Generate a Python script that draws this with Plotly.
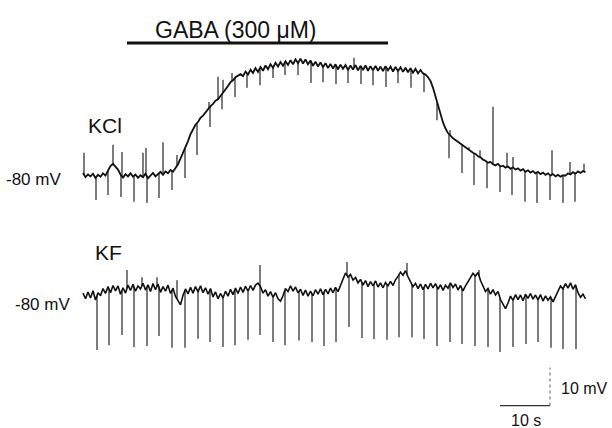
import numpy as np
import plotly.graph_objects as go

# ---------------- data (time in s, membrane potential in mV) ----------------
SAMPLE_STEP = 0.5  # s between samples of the slow traces

kcl_trace = [
    # t = 0 .. 31.5 s
    -79.2, -80.3, -79.6, -80.1, -79.4, -80.5, -79.7, -80.2, -79.3, -79.9,
    -78.6, -77.4, -76.8, -77.5, -78.3, -79.6, -80.4, -79.5, -80.1, -79.3,
    -80.2, -79.6, -80.5, -79.8, -80.3, -79.4, -80.6, -79.9, -79.2, -80.1,
    -79.5, -78.9, -79.7, -78.8, -79.3, -78.4, -78.9, -77.8, -76.9, -75.4,
    -74.0, -72.3, -70.8, -69.0, -67.9, -66.5, -65.8, -64.7, -64.1, -63.2,
    -62.6, -61.6, -61.0, -60.2, -59.8, -59.0, -58.1, -57.2, -56.3, -55.3,
    -54.8, -54.0, -53.7, -53.2,
    # t = 32 .. 67.5 s (plateau)
    -53.7, -52.5, -53.3, -52.0, -52.9, -51.6, -52.6, -51.3, -52.3, -50.9,
    -51.9, -50.6, -51.5, -50.2, -51.2, -50.0, -51.0, -49.8, -50.8, -49.5,
    -50.6, -49.3, -50.3, -49.1, -50.4, -49.3, -50.6, -49.6, -51.0, -49.9,
    -51.2, -50.1, -51.4, -50.3, -51.6, -50.5, -51.7, -50.6, -51.9, -50.7,
    -51.8, -50.8, -52.1, -50.9, -52.0, -50.8, -52.2, -51.0, -52.1, -50.9,
    -52.3, -51.1, -52.2, -51.0, -52.3, -51.2, -52.4, -51.1, -52.2, -51.2,
    -52.5, -51.3, -52.4, -51.4, -52.6, -51.5, -52.7, -51.6, -52.8, -51.8,
    -53.0, -52.1,
    # t = 68 .. 100.5 s
    -53.0, -53.3, -54.0, -55.0,
    -56.8, -59.2, -61.8, -64.0, -65.9, -67.5, -68.7, -69.4, -70.1, -70.5,
    -71.0, -71.4, -71.9, -72.3, -72.9, -73.3, -73.9, -74.2, -74.8, -75.1,
    -75.7, -76.0, -76.5, -76.3, -76.9, -77.2, -76.8, -77.5, -77.3, -77.8,
    -77.5, -78.1, -77.7, -78.3, -78.0, -78.6, -78.2, -78.9, -78.5, -79.1,
    -78.7, -79.3, -78.9, -79.5, -79.1, -79.7, -79.3, -79.9, -79.5, -80.1,
    -79.7, -80.2, -79.8, -79.9, -79.3, -79.6, -79.0, -79.4, -78.8, -79.2,
    -78.7, -79.0,
]

kf_trace = [
    -79.5, -81.0, -79.2, -80.8, -78.9, -81.3, -79.4, -80.2, -78.3, -79.6,
    -77.8, -79.4, -77.5, -78.9, -77.6, -79.8, -78.1, -79.5, -77.4, -78.8,
    -77.2, -79.0, -77.6, -78.4, -76.9, -78.7, -77.3, -79.1, -77.0, -78.6,
    -77.1, -79.3, -77.8, -79.0, -77.4, -79.6, -78.2, -80.4, -81.5, -82.6,
    -80.1, -78.4, -79.7, -78.0, -79.5, -77.8, -79.2, -77.6, -79.4, -78.1,
    -79.8, -78.3, -80.5, -79.2, -81.0, -79.6, -80.8, -79.0, -80.3, -78.5,
    -79.9, -78.2, -79.6, -77.9, -79.3, -77.7, -79.0, -77.5, -78.8, -77.4,
    -76.9, -77.8, -79.5, -78.6, -80.3, -79.1, -80.6, -79.4, -81.0, -81.6,
    -80.2, -78.3, -79.1, -77.6, -79.0, -77.9, -79.4, -78.5, -80.1, -78.7,
    -80.3, -79.0, -80.2, -78.6, -79.8, -78.4, -79.9, -78.5, -79.7, -78.2,
    -79.4, -78.0, -79.1, -77.5, -76.0, -74.2, -75.3, -74.6, -76.1, -75.4,
    -76.8, -75.9, -77.4, -76.2, -77.8, -76.5, -77.6, -76.3, -77.9, -76.8,
    -78.1, -76.7, -77.6, -76.4, -77.5, -76.0, -75.1, -74.0, -74.8, -73.6,
    -75.2, -76.4, -77.8, -76.9, -78.3, -77.1, -78.6, -77.2, -78.4, -76.9,
    -78.1, -77.0, -78.5, -77.3, -78.8, -77.4, -78.2, -76.8, -78.0, -77.1,
    -78.7, -77.5, -78.9, -77.6, -76.4, -75.1, -74.3, -75.0, -74.1, -76.2,
    -77.8, -79.1, -78.3, -79.8, -78.6, -80.0, -79.1, -81.2, -82.4, -83.6,
    -82.1, -80.3, -81.4, -79.9, -81.2, -80.0, -81.5, -79.8, -80.9, -79.6,
    -81.1, -80.0, -81.3, -79.9, -81.6, -80.2, -81.4, -80.5, -81.8, -80.3,
    -79.1, -77.6, -78.4, -77.0, -78.2, -76.8, -78.5, -77.3, -79.4, -80.6,
    -79.8, -81.0,
]

# fast transients (time of spike, peak potential)
kcl_down_t = [2.6, 5.0, 7.6, 10.2, 12.8, 15.2, 17.8, 20.4, 22.8, 25.4, 27.8, 30.4, 32.8,
              35.4, 38.0, 40.4, 43.0, 45.6, 48.0, 50.6, 53.0, 55.6, 58.0, 60.6, 63.0,
              65.6, 68.2, 70.8, 73.2, 75.8, 78.2, 80.8, 83.4, 85.8, 88.4, 90.8, 93.4,
              96.0, 98.4]
kcl_down_v = [-86.3, -85.0, -85.5, -86.8, -87.1, -85.8, -83.7, -80.5, -74.5, -67.1, -62.4,
              -59.2, -56.8, -56.1, -54.2, -53.4, -53.4, -55.5, -55.3, -55.8, -55.5, -55.8,
              -56.1, -56.6, -55.5, -56.8, -57.9, -65.3, -75.3, -79.2, -82.4, -83.2, -84.2,
              -85.0, -86.8, -87.1, -86.3, -87.1, -86.8]
kcl_up_t = [0.2, 6.0, 7.8, 12.0, 12.6, 16.0, 18.8, 25.2, 27.0, 28.0, 29.8, 54.2,
            73.4, 77.2, 79.4, 82.0, 84.8, 86.0, 93.8, 97.4, 100.2]
kcl_up_v = [-73.9, -71.8, -73.7, -73.9, -72.6, -71.1, -74.5, -60.5, -53.9, -54.7, -52.9,
            -48.9, -67.9, -72.4, -73.2, -61.8, -73.9, -75.0, -73.2, -76.3, -76.8]

kf_down_t = [2.8, 5.2, 7.8, 10.2, 12.8, 15.2, 17.8, 20.4, 23.0, 25.4, 28.0, 30.4, 33.0,
             35.4, 38.0, 40.4, 43.2, 45.8, 48.2, 50.6, 53.2, 55.8, 58.2, 60.8, 63.2,
             65.8, 68.2, 70.8, 73.4, 75.8, 78.4, 81.0, 83.4, 86.0, 88.6, 91.0, 93.6,
             96.0, 98.6]
kf_down_v = [-94.5, -93.2, -90.5, -93.7, -93.4, -90.8, -93.9, -93.9, -91.5, -92.4, -93.7,
             -93.2, -91.8, -90.5, -92.4, -93.2, -92.0, -92.4, -93.4, -92.4, -88.4, -91.3,
             -91.6, -91.8, -91.1, -91.1, -91.6, -93.4, -92.4, -92.9, -93.4, -93.7, -95.0,
             -93.7, -92.9, -92.4, -93.9, -94.2, -94.2]
kf_up_t = [8.8, 11.8, 14.8, 18.8, 35.4, 52.8, 64.8, 79.2]
kf_up_v = [-73.4, -75.3, -75.3, -76.1, -72.1, -71.3, -71.6, -73.4]

gaba_on, gaba_off = 8.8, 61.0        # s
scale_t, scale_v = 10, 10            # s, mV
rest_label = "-80 mV"

# ---------------- figure ----------------
INK = "#111111"
FONT = "Liberation Sans, Arial, sans-serif"

def spikes(t_samples, v_samples, spike_t, spike_v):
    xs, ys = [], []
    for t, v in zip(spike_t, spike_v):
        root = float(np.interp(t, t_samples, v_samples))
        xs += [t, t, None]
        ys += [root, v, None]
    return xs, ys

t_kcl = np.arange(len(kcl_trace)) * SAMPLE_STEP
t_kf = np.arange(len(kf_trace)) * SAMPLE_STEP

fig = go.Figure()

line = dict(color=INK, width=1.8)
spk = dict(color=INK, width=1.1)

fig.add_trace(go.Scatter(x=t_kcl, y=kcl_trace, mode="lines", line=line, yaxis="y"))
x, y = spikes(t_kcl, kcl_trace, kcl_down_t, kcl_down_v)
fig.add_trace(go.Scatter(x=x, y=y, mode="lines", line=spk, yaxis="y"))
x, y = spikes(t_kcl, kcl_trace, kcl_up_t, kcl_up_v)
fig.add_trace(go.Scatter(x=x, y=y, mode="lines", line=spk, yaxis="y"))

fig.add_trace(go.Scatter(x=t_kf, y=kf_trace, mode="lines", line=dict(color=INK, width=1.6),
                         yaxis="y2"))
x, y = spikes(t_kf, kf_trace, kf_down_t, kf_down_v)
fig.add_trace(go.Scatter(x=x, y=y, mode="lines", line=spk, yaxis="y2"))
x, y = spikes(t_kf, kf_trace, kf_up_t, kf_up_v)
fig.add_trace(go.Scatter(x=x, y=y, mode="lines", line=spk, yaxis="y2"))

# GABA application bar
fig.add_trace(go.Scatter(x=[gaba_on, gaba_off], y=[-45.0, -45.0], mode="lines",
                         line=dict(color=INK, width=3), yaxis="y"))

# scale bars (anchored on the KF axis)
sb_t0, sb_v0 = 83.4, -109.1
fig.add_trace(go.Scatter(x=[sb_t0, sb_t0 + scale_t], y=[sb_v0, sb_v0], mode="lines",
                         line=dict(color="#333333", width=1.3), yaxis="y2"))
fig.add_trace(go.Scatter(x=[sb_t0 + scale_t, sb_t0 + scale_t], y=[sb_v0, sb_v0 + scale_v],
                         mode="lines", line=dict(color="#777777", width=1.2, dash="dot"),
                         yaxis="y2"))

ann = []
def txt(text, x, y, size, yref="y", xanchor="center"):
    ann.append(dict(text=text, x=x, y=y, xref="x", yref=yref, showarrow=False,
                    xanchor=xanchor, yanchor="middle",
                    font=dict(family=FONT, size=size, color=INK)))

txt("GABA (300 \u03bcM)", 30.6, -41.6, 23)
txt("KCl", 4.4, -66.6, 21)
txt("KF", 5.0, -68.7, 21, yref="y2")
txt(rest_label, -4.0, -80.8, 17, xanchor="right")
txt(rest_label, -2.2, -82.6, 17, yref="y2", xanchor="right")
txt("10 mV", 95.2, -104.5, 16, yref="y2", xanchor="left")
txt("10 s", 88.6, -113.0, 16, yref="y2")

fig.update_layout(
    width=612, height=428,
    margin=dict(l=0, r=0, t=0, b=0, pad=0),
    paper_bgcolor="white", plot_bgcolor="white",
    showlegend=False,
    annotations=ann,
    xaxis=dict(range=[-16.6, 105.8], visible=False, fixedrange=True),
    yaxis=dict(range=[-146.32, -33.68], visible=False, fixedrange=True),
    yaxis2=dict(range=[-115.0, -2.37], visible=False, overlaying="y", fixedrange=True),
)

fig.write_html("out.html", config={"displayModeBar": False},
               post_script="document.body.style.margin='0';document.body.style.overflow='hidden';")
